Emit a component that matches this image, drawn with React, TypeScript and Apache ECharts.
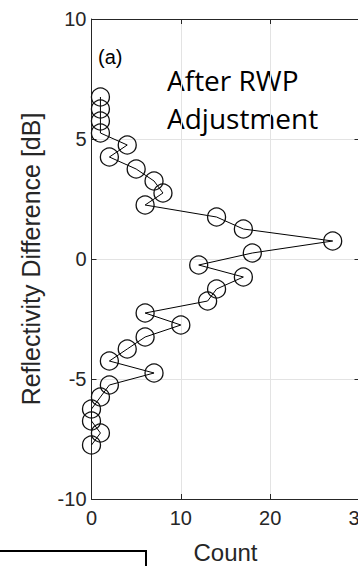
import React, { useEffect, useRef } from "react";
import * as echarts from "echarts";

const dbBins = [6.75, 6.25, 5.75, 5.25, 4.75, 4.25, 3.75, 3.25, 2.75, 2.25, 1.75, 1.25, 0.75, 0.25, -0.25, -0.75, -1.25, -1.75, -2.25, -2.75, -3.25, -3.75, -4.25, -4.75, -5.25, -5.75, -6.25, -6.75, -7.25, -7.75];
const counts = [1, 1, 1, 1, 4, 2, 5, 7, 8, 6, 14, 17, 27, 18, 12, 17, 14, 13, 6, 10, 6, 4, 2, 7, 2, 1, 0, 0, 1, 0];
const xTicks = [0, 10, 20, 30];
const yTicks = [-10, -5, 0, 5, 10];
const xName = "Count";
const yName = "Reflectivity Difference [dB]";
const panelLabel = "(a)";
const noteLines = ["After RWP", "Adjustment"];

const AX = "#262626";
const FONT = "'Liberation Sans', Arial, Helvetica, sans-serif";

export default function App() {
  const ref = useRef<HTMLDivElement>(null);
  useEffect(() => {
    if (!ref.current) return;
    const chart = echarts.init(ref.current, undefined, { renderer: "svg" });
    const axisCommon = {
      axisLine: { show: true, onZero: false, lineStyle: { color: AX, width: 1 } },
      axisTick: { show: true, inside: true, length: 5, lineStyle: { color: AX } },
    };
    chart.setOption({
      animation: false,
      backgroundColor: "#ffffff",
      grid: { left: 91.5, right: -1.5, top: 19, bottom: 67, outerBoundsMode: "none", containLabel: false },
      xAxis: [
        {
          type: "value",
          min: xTicks[0],
          max: xTicks[xTicks.length - 1],
          interval: 10,
          position: "bottom",
          ...axisCommon,
          axisLabel: { color: AX, fontSize: 20, fontFamily: FONT, margin: 9, showMinLabel: true, showMaxLabel: true, hideOverlap: false },
          splitLine: { show: true, lineStyle: { color: "#e3e3e3", width: 1 } },
          name: xName,
          nameLocation: "middle",
          nameGap: 41,
          nameTextStyle: { color: AX, fontSize: 24, fontFamily: FONT },
        },
        {
          type: "value",
          min: xTicks[0],
          max: xTicks[xTicks.length - 1],
          interval: 10,
          position: "top",
          ...axisCommon,
          axisLabel: { show: false },
          splitLine: { show: false },
        },
      ],
      yAxis: [
        {
          type: "value",
          min: yTicks[0],
          max: yTicks[yTicks.length - 1],
          interval: 5,
          position: "left",
          ...axisCommon,
          axisLabel: { color: AX, fontSize: 20, fontFamily: FONT, margin: 5, showMinLabel: true, showMaxLabel: true, hideOverlap: false },
          splitLine: { show: true, lineStyle: { color: "#e3e3e3", width: 1 } },
          name: yName,
          nameLocation: "middle",
          nameGap: 48,
          nameRotate: 90,
          nameTextStyle: { color: AX, fontSize: 25, fontFamily: FONT },
        },
        {
          type: "value",
          min: yTicks[0],
          max: yTicks[yTicks.length - 1],
          interval: 5,
          position: "right",
          ...axisCommon,
          axisLabel: { show: false },
          splitLine: { show: false },
        },
      ],
      series: [
        {
          type: "line",
          data: counts.map((c, i) => [c, dbBins[i]]),
          clip: false,
          symbol: "circle",
          symbolSize: 18,
          lineStyle: { color: "#000", width: 1 },
          itemStyle: { color: "rgba(0,0,0,0)", borderColor: "#111", borderWidth: 1.3 },
          z: 5,
        },
      ],
      graphic: [
        {
          type: "text",
          left: 98,
          top: 47,
          style: { text: panelLabel, fontSize: 20, fontFamily: FONT, fill: "#000" },
        },
        {
          type: "text",
          left: 167,
          top: 61,
          style: { text: noteLines.join("\n"), fontSize: 28, lineHeight: 38, fontFamily: "'Open Sans', sans-serif", fill: "#000" },
        },
        {
          type: "rect",
          shape: { x: -5, y: 551, width: 151, height: 40 },
          style: { fill: "none", stroke: "#000", lineWidth: 2 },
        },
      ],
    });
    return () => chart.dispose();
  }, []);
  return (
    <div style={{ position: "fixed", left: 0, top: 0, width: 358, height: 566, overflow: "hidden", background: "#fff" }}>
      <div ref={ref} style={{ width: 358, height: 566 }} />
    </div>
  );
}
